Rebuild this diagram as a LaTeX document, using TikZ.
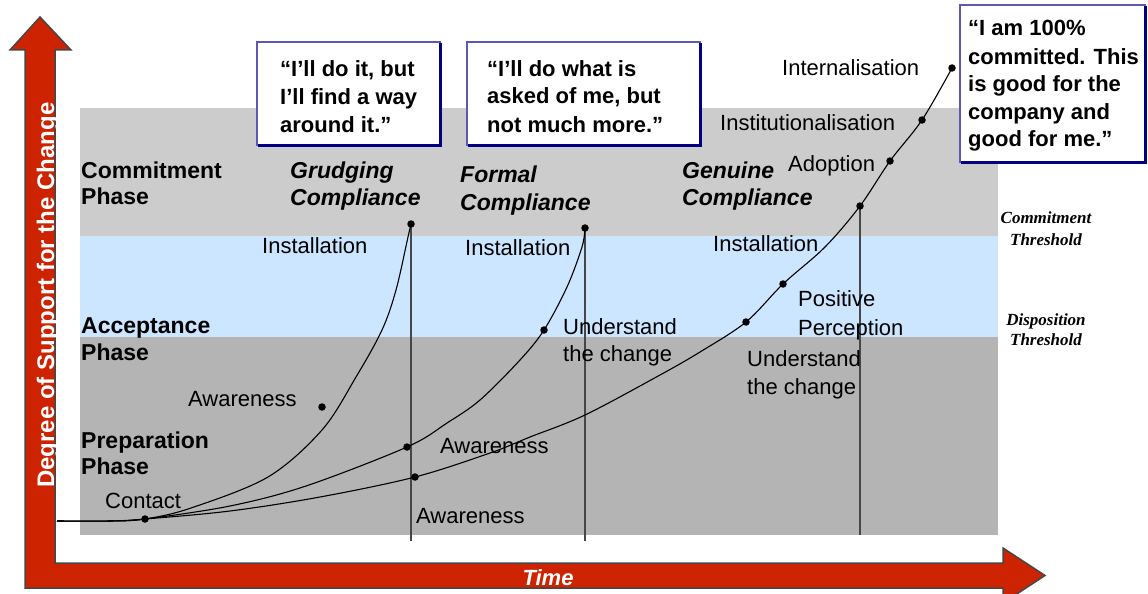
\documentclass[tikz,border=0pt]{standalone}
\usepackage{fontspec}
\setmainfont{Liberation Sans}
\newfontfamily\thrfont{Liberation Serif}
\definecolor{axred}{RGB}{205,35,0}
\definecolor{axedge}{RGB}{70,70,70}
\definecolor{bandlight}{RGB}{204,204,204}
\definecolor{bandblue}{RGB}{204,230,255}
\definecolor{banddark}{RGB}{180,180,180}
\definecolor{vline}{RGB}{70,70,70}
\definecolor{boxlight}{RGB}{90,90,180}
\definecolor{boxdark}{RGB}{0,0,128}
\begin{document}
\begin{tikzpicture}[x=1pt,y=-1pt,
 lbl/.style={anchor=base west, inner sep=0pt, font=\fontsize{22}{26}\selectfont},
 phase/.style={anchor=base west, inner sep=0pt, font=\bfseries\fontsize{23}{26}\selectfont},
 compl/.style={anchor=base west, inner sep=0pt, font=\bfseries\itshape\fontsize{23}{26}\selectfont},
 quote/.style={anchor=base west, inner sep=0pt, font=\bfseries\fontsize{22}{26}\selectfont},
 thr/.style={anchor=base, inner sep=0pt, font=\thrfont\bfseries\itshape\fontsize{17}{20}\selectfont},
 dot/.style={circle, fill=black, inner sep=0pt, minimum size=7.5pt},
 stage/.style={draw=vline, line width=2.5pt},
 curve/.style={draw=black, line width=1.1pt},
 qbox/.style={fill=white, draw=boxlight, line width=1.5pt},
 qshadow/.style={draw=boxdark, line width=3pt}
]
\useasboundingbox (0,0) rectangle (1148,594);
% bands
\fill[bandlight] (80,108) rectangle (998,236);
\fill[bandblue] (80,236) rectangle (998,337);
\fill[banddark] (80,337) rectangle (998,535);

% curve points
\coordinate (s0) at (57,521);
\coordinate (s1) at (110,521);
\coordinate (pc) at (145,519);
\coordinate (a1) at (322,407);
\coordinate (t1) at (411,224);
\coordinate (b2) at (407,447);
\coordinate (u2) at (544,330);
\coordinate (t2) at (585,228);
\coordinate (b3) at (415,477);
\coordinate (u3) at (746,322);
\coordinate (p3) at (783,284);
\coordinate (t3) at (860,206);
\coordinate (ad) at (890,161);
\coordinate (in) at (922,120);
\coordinate (it) at (952,68);
\coordinate (e1) at (411,541);
\coordinate (e2) at (585,541);
\coordinate (e3) at (860,535);

% stage lines
\draw[stage] (t1) -- (e1);
\draw[stage] (t2) -- (e2);
\draw[stage] (t3) -- (e3);

% curves
\draw[curve] plot[smooth, tension=0.55] coordinates {(s0) (s1) (pc) (191,508) (268,477) (322,430) (356,377) (382,330) (396,290) (408,237) (t1)};
\draw[curve] plot[smooth, tension=0.55] coordinates {(s0) (s1) (pc) (230,506) (306,486) (b2) (447,423) (480,400) (520,360) (u2) (567,287) (582,247) (t2)};
\draw[curve] plot[smooth, tension=0.55] coordinates {(s0) (s1) (pc) (230,511) (320,497) (b3) (490,453) (530,437) (585,415) (660,375) (700,352) (u3) (p3) (825,247) (t3) (ad) (in) (it)};

% dots
\foreach \p in {pc,a1,t1,b2,u2,t2,b3,u3,p3,t3,ad,in,it}
  \node[dot] (dot-\p) at (\p) {};

% phase labels
\node[phase] (cp1) at (81,178) {Commitment};
\node[phase] (cp2) at (81,204) {Phase};
\node[phase] (ap1) at (81,333) {Acceptance};
\node[phase] (ap2) at (81,360) {Phase};
\node[phase] (pp1) at (81,448) {Preparation};
\node[phase] (pp2) at (81,474) {Phase};

% compliance labels
\node[compl] (gc1) at (290,178) {Grudging};
\node[compl] (gc2) at (290,205) {Compliance};
\node[compl] (fc1) at (460,182) {Formal};
\node[compl] (fc2) at (460,210) {Compliance};
\node[compl] (nc1) at (682,178) {Genuine};
\node[compl] (nc2) at (682,205) {Compliance};

% stage labels
\node[lbl] (inst1) at (262,253) {Installation};
\node[lbl] (inst2) at (465,255) {Installation};
\node[lbl] (inst3) at (713,251) {Installation};
\node[lbl] (intl) at (782,75) {Internalisation};
\node[lbl] (inslab) at (720,130) {Institutionalisation};
\node[lbl] (adop) at (788,171) {Adoption};
\node[lbl] (pos1) at (798,306) {Positive};
\node[lbl] (pos2) at (798,335) {Perception};
\node[lbl] (und1) at (563,334) {Understand};
\node[lbl] (und1b) at (563,361) {the change};
\node[lbl] (und2) at (747,366) {Understand};
\node[lbl] (und2b) at (747,394) {the change};
\node[lbl] (aw1) at (188,406) {Awareness};
\node[lbl] (aw2) at (440,453) {Awareness};
\node[lbl] (aw3) at (416,523) {Awareness};
\node[lbl] (cont) at (105,508) {Contact};

% thresholds
\node[thr] (ct1) at (1046,223) {Commitment};
\node[thr] (ct2) at (1046,245) {Threshold};
\node[thr] (dt1) at (1046,325) {Disposition};
\node[thr] (dt2) at (1046,345) {Threshold};

% quote boxes
\draw[qbox] (257,42) rectangle (440,145);
\draw[qshadow] (440,43) -- (440,145) -- (258,145);
\node[quote] (q1a) at (280,77) {“I'll do it, but};
\node[quote] (q1b) at (280,104) {I'll find a way};
\node[quote] (q1c) at (280,132) {around it.”};

\draw[qbox] (467,42) rectangle (700,145);
\draw[qshadow] (700,43) -- (700,145) -- (468,145);
\node[quote] (q2a) at (487,76) {“I'll do what is};
\node[quote] (q2b) at (487,103) {asked of me, but};
\node[quote] (q2c) at (487,132) {not much more.”};

\draw[qbox] (960,5) rectangle (1145,162);
\draw[qshadow] (1145,6) -- (1145,162) -- (961,162);
\node[quote] (q3a) at (968,36) {“I am 100\%};
\node[quote] (q3b) at (968,64) {committed. This};
\node[quote] (q3c) at (968,91) {is good for the};
\node[quote] (q3d) at (968,119) {company and};
\node[quote] (q3e) at (968,146) {good for me.”};

% axes
\draw[fill=axred, draw=axedge, line width=1.5pt, line join=miter] (25,588) -- (25,50) -- (10,50) -- (40,17) -- (71,50) -- (55,50) -- (55,563) -- (1003,563) -- (1003,548) -- (1045,575.5) -- (1003,603) -- (1003,588) -- cycle;
\node[rotate=90, anchor=base, text=white, inner sep=0pt, font=\bfseries\fontsize{24}{28}\selectfont] (yax) at (54,295) {Degree of Support for the Change};
\node[anchor=base, text=white, inner sep=0pt, font=\bfseries\itshape\fontsize{22}{26}\selectfont] (xax) at (548,585) {Time};
\end{tikzpicture}
\end{document}
